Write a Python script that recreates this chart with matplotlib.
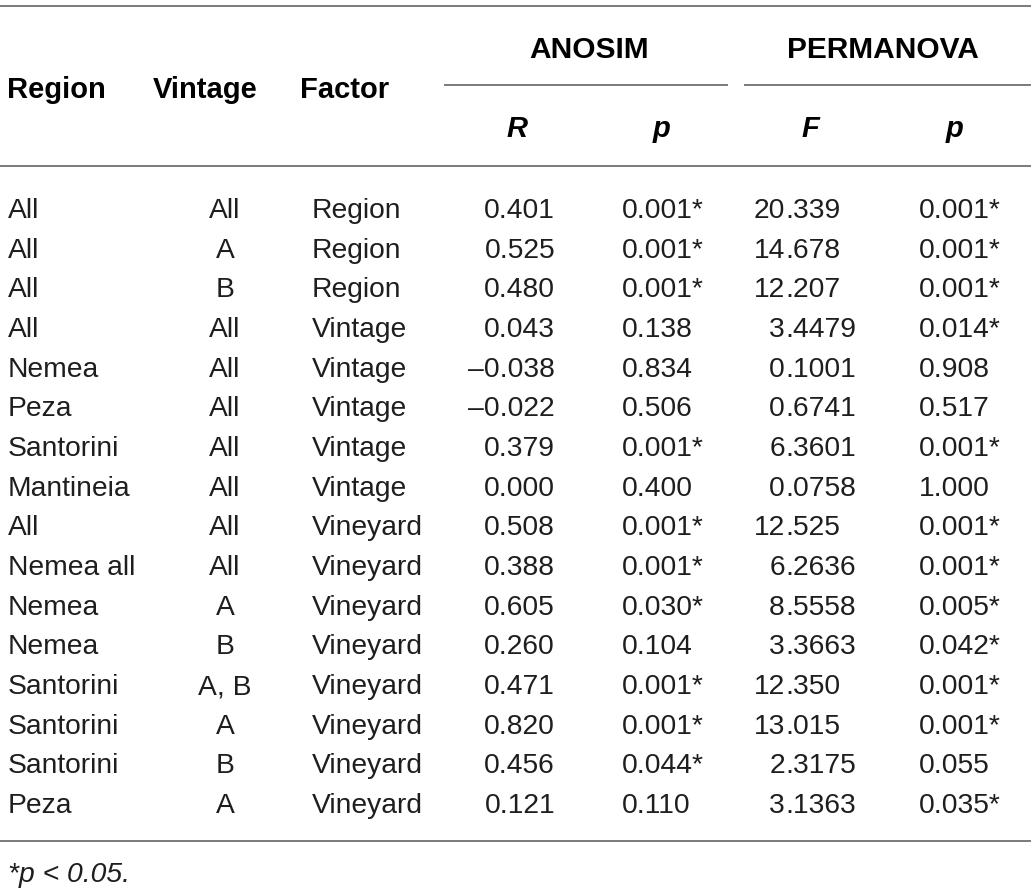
import matplotlib
matplotlib.use('Agg')
import matplotlib.pyplot as plt

# table data
regions = ['All', 'All', 'All', 'All', 'Nemea', 'Peza', 'Santorini', 'Mantineia',
           'All', 'Nemea all', 'Nemea', 'Nemea', 'Santorini', 'Santorini', 'Santorini', 'Peza']
vintages = ['All', 'A', 'B', 'All', 'All', 'All', 'All', 'All',
            'All', 'All', 'A', 'B', 'A, B', 'A', 'B', 'A']
factors = ['Region', 'Region', 'Region', 'Vintage', 'Vintage', 'Vintage', 'Vintage', 'Vintage',
           'Vineyard', 'Vineyard', 'Vineyard', 'Vineyard', 'Vineyard', 'Vineyard', 'Vineyard', 'Vineyard']
anosim_r = ['0.401', '0.525', '0.480', '0.043', '\u20130.038', '\u20130.022', '0.379', '0.000',
            '0.508', '0.388', '0.605', '0.260', '0.471', '0.820', '0.456', '0.121']
anosim_p = ['0.001*', '0.001*', '0.001*', '0.138', '0.834', '0.506', '0.001*', '0.400',
            '0.001*', '0.001*', '0.030*', '0.104', '0.001*', '0.001*', '0.044*', '0.110']
perm_f = ['20.339', '14.678', '12.207', '3.4479', '0.1001', '0.6741', '6.3601', '0.0758',
          '12.525', '6.2636', '8.5558', '3.3663', '12.350', '13.015', '2.3175', '3.1363']
perm_p = ['0.001*', '0.001*', '0.001*', '0.014*', '0.908', '0.517', '0.001*', '1.000',
          '0.001*', '0.001*', '0.005*', '0.042*', '0.001*', '0.001*', '0.055', '0.035*']
footnote = '*p < 0.05.'

plt.rcParams['font.family'] = ['Liberation Sans', 'DejaVu Sans']
W, H = 1035, 895
fig = plt.figure(figsize=(W / 100, H / 100), dpi=100)
ax = fig.add_axes([0, 0, 1, 1])
ax.set_xlim(0, W)
ax.set_ylim(H, 0)
ax.axis('off')

fs = 20.3      # body text
fs_h = 21      # column headers
fs_g = 21.5    # group headers
txt = '#1e1e1e'
line_c = '#7a7a7a'
lw = 1.4

# rules
ax.plot([0, 1030], [7, 7], color=line_c, lw=lw)
ax.plot([445, 727], [86, 86], color=line_c, lw=lw)
ax.plot([745, 1030], [86, 86], color=line_c, lw=lw)
ax.plot([0, 1030], [167, 167], color=line_c, lw=lw)
ax.plot([0, 1030], [842, 842], color=line_c, lw=lw)

# header
ax.text(7, 98, 'Region', fontsize=fs_h, fontweight='bold', color='black', va='baseline', ha='left')
ax.text(205, 98, 'Vintage', fontsize=fs_h, fontweight='bold', color='black', va='baseline', ha='center')
ax.text(300, 98, 'Factor', fontsize=fs_h, fontweight='bold', color='black', va='baseline', ha='left')
ax.text(589, 58, 'ANOSIM', fontsize=fs_g, fontweight='bold', color='black', va='baseline', ha='center')
ax.text(883, 58, 'PERMANOVA', fontsize=fs_g, fontweight='bold', color='black', va='baseline', ha='center')
for x, s in zip([517, 662, 810, 955], ['R', 'p', 'F', 'p']):
    ax.text(x, 137, s, fontsize=fs_h, fontweight='bold', fontstyle='italic', color='black',
            va='baseline', ha='center')

# rows
y0, dy = 218, 39.67
for i in range(len(regions)):
    y = y0 + i * dy
    ax.text(8, y, regions[i], fontsize=fs, color=txt, va='baseline', ha='left')
    ax.text(225, y, vintages[i], fontsize=fs, color=txt, va='baseline', ha='center')
    ax.text(312, y, factors[i], fontsize=fs, color=txt, va='baseline', ha='left')
    ax.text(555, y, anosim_r[i], fontsize=fs, color=txt, va='baseline', ha='right')
    ax.text(622, y, anosim_p[i], fontsize=fs, color=txt, va='baseline', ha='left')
    # F column aligned on the decimal point
    whole, frac = perm_f[i].split('.')
    ax.text(785, y, whole, fontsize=fs, color=txt, va='baseline', ha='right')
    ax.text(785, y, '.' + frac, fontsize=fs, color=txt, va='baseline', ha='left')
    ax.text(919, y, perm_p[i], fontsize=fs, color=txt, va='baseline', ha='left')

ax.text(8, 882, footnote, fontsize=fs, fontstyle='italic', color=txt, va='baseline', ha='left')

fig.savefig('out.png', dpi=100, facecolor='white')
